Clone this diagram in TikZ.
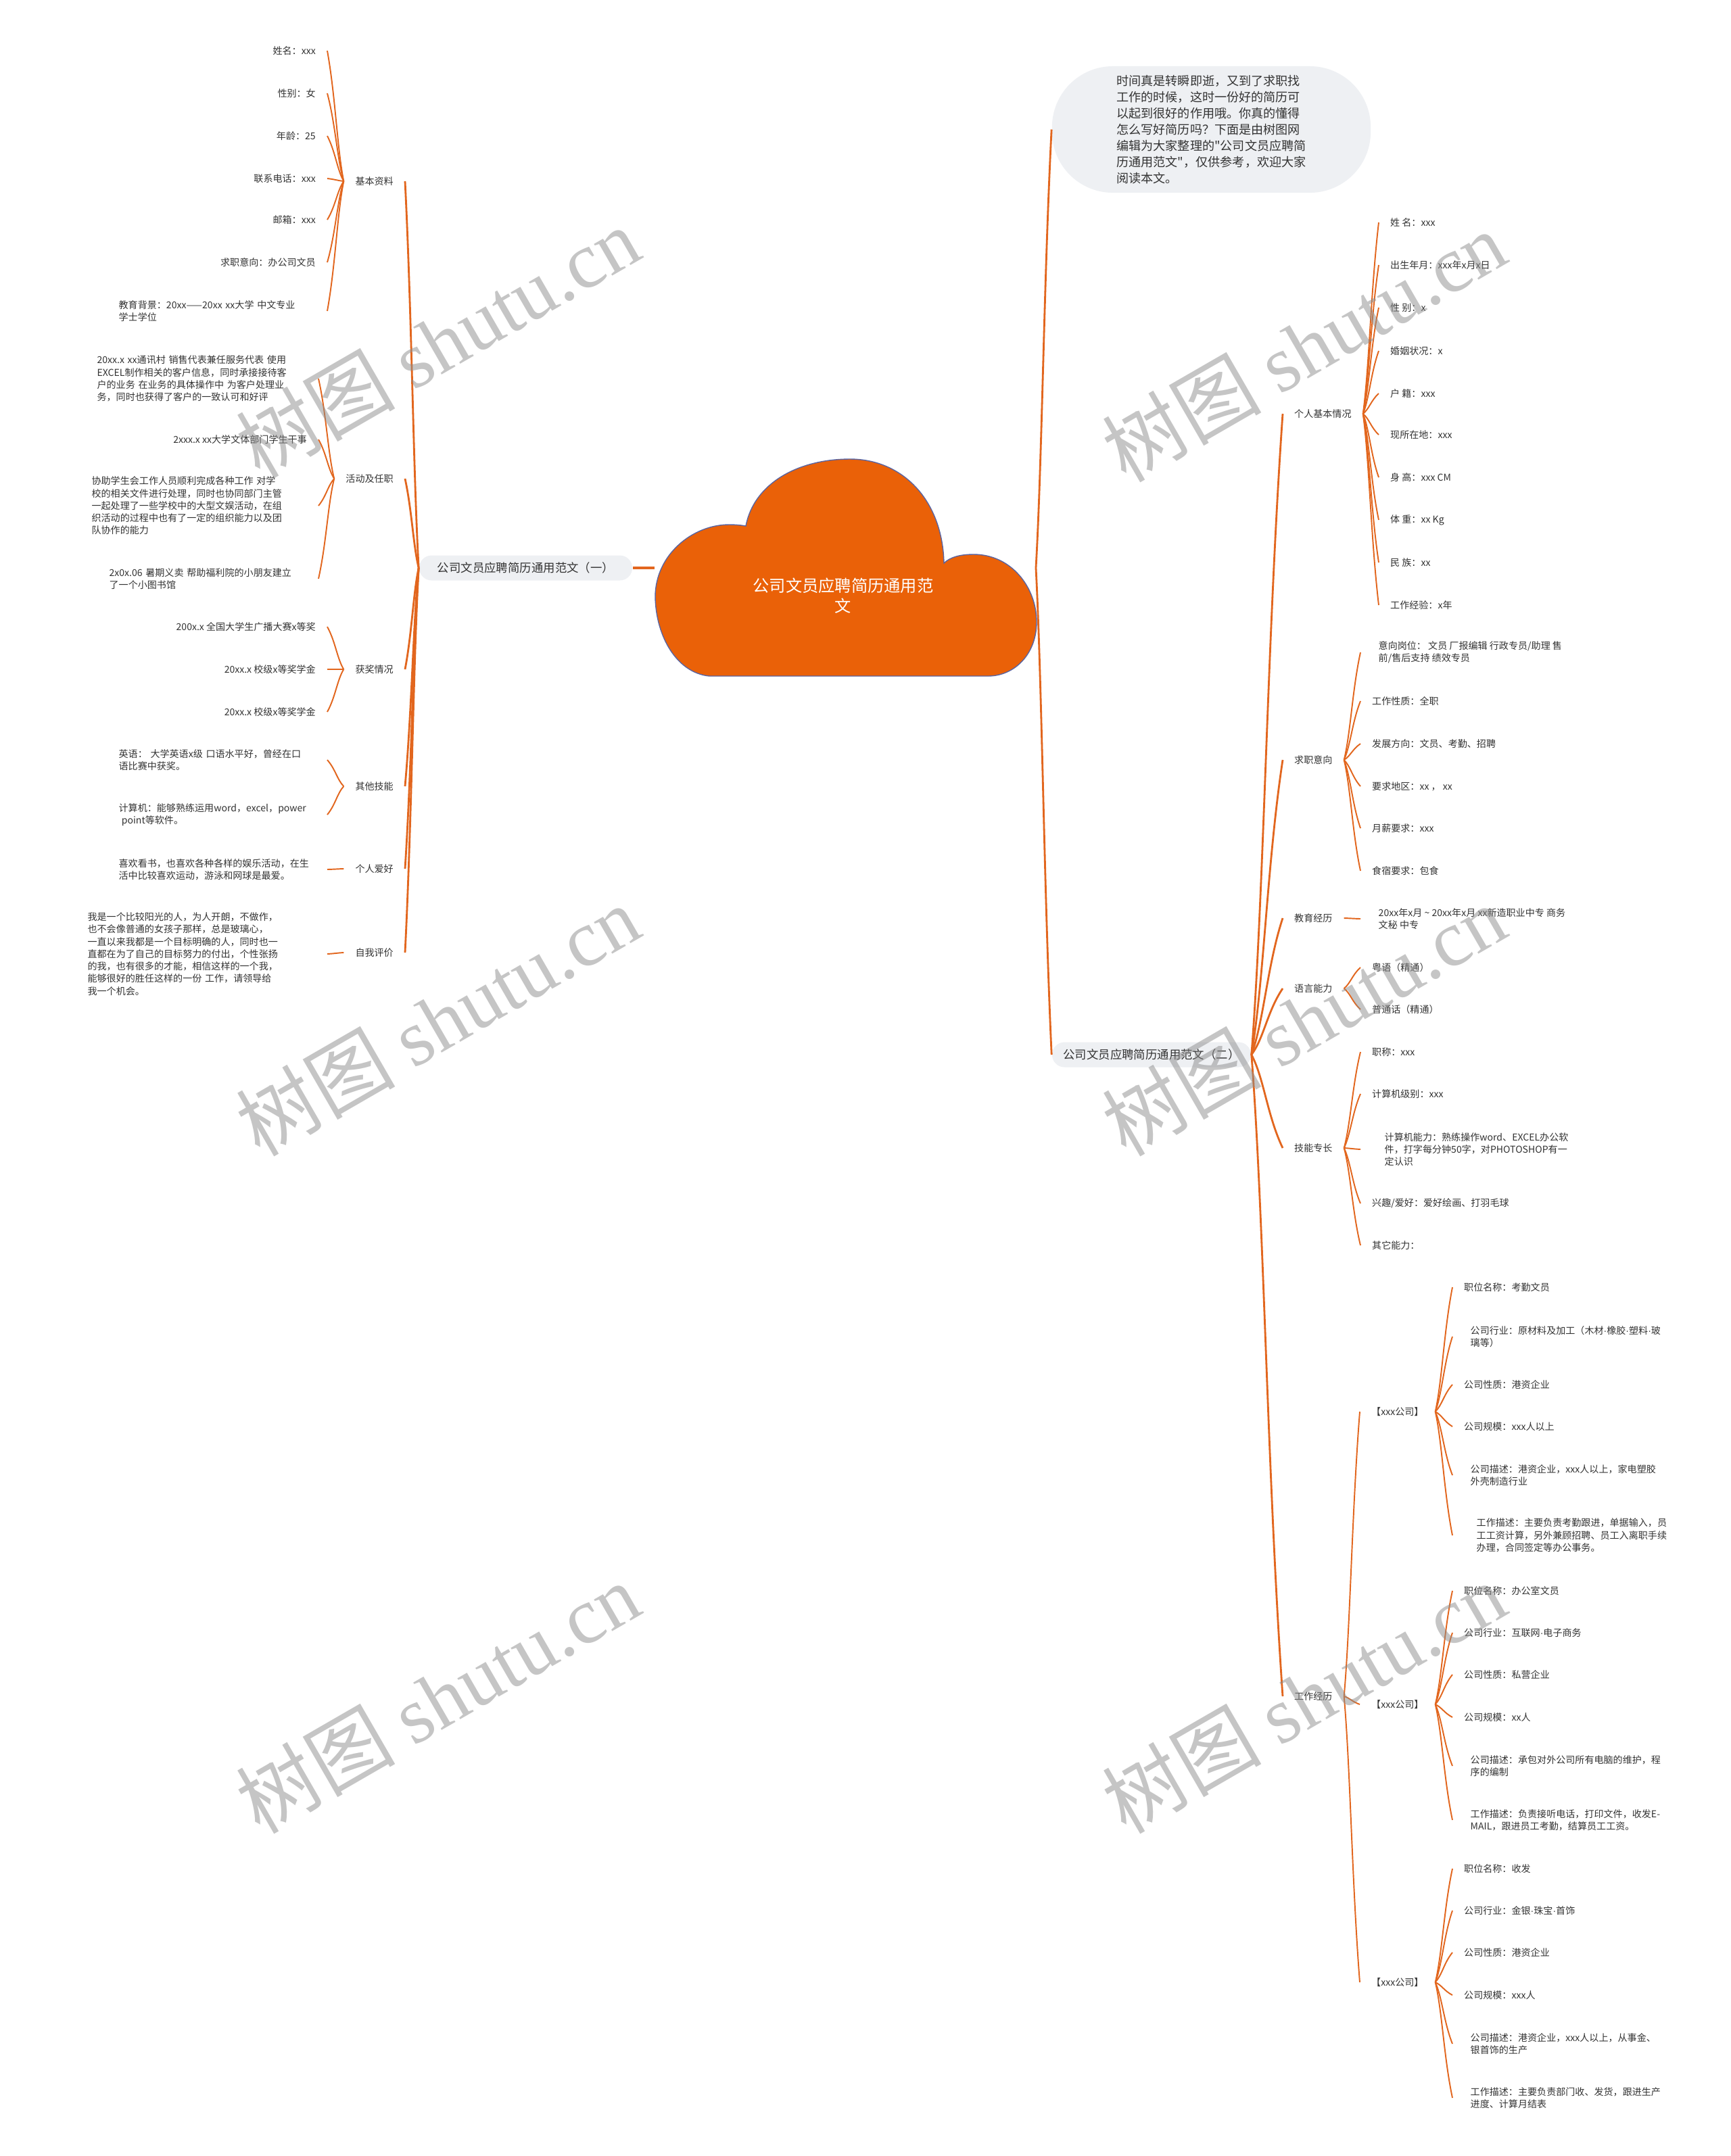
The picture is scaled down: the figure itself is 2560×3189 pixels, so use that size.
\documentclass[tikz,border=0pt]{standalone}
\usepackage{fontspec}
\setmainfont{Noto Sans CJK SC}[Ligatures=TeXOff]
\newfontfamily\wmlatin{Liberation Serif}
\newfontfamily\dotf{Liberation Sans}
\newcommand\md{{\dotf ·}}
\usetikzlibrary{calc}
\definecolor{lnc}{HTML}{E2661E}
\definecolor{cldf}{HTML}{EA6108}
\definecolor{cldb}{HTML}{5B64A0}
\definecolor{bxf}{HTML}{EEF0F3}
\definecolor{txc}{HTML}{333333}
\newcommand\mmlink[3]{\draw[#1] let \p1=(#2), \p2=(#3) in (\p1) .. controls ({\x1+0.4*(\x2-\x1)},{\y1+0.25*(\y2-\y1)}) and ({\x2-0.5*(\x2-\x1)},{\y2-0.35*(\y2-\y1)}) .. (\p2);}
\begin{document}
\begin{tikzpicture}[x=0.01cm, y=-0.01cm,
 leaf/.style={font=\fontsize{4}{5.2}\selectfont, text=txc, inner xsep=0.165cm, inner ysep=1pt},
 mbox/.style={fill=bxf, rounded corners=0.185cm, minimum width=#1, minimum height=0.37cm, inner sep=0pt, font=\fontsize{4.95}{6}\selectfont, text=txc},
 trunk/.style={draw=lnc, line width=0.8pt},
 twig/.style={draw=lnc, line width=0.55pt},
 wm/.style={font=\fontsize{33.5}{33.5}\selectfont, text=black!45, text opacity=0.5, rotate=30}]
\useasboundingbox (0,0) rectangle (2560,3189);
\fill[white] (0,0) rectangle (2560,3189);

% ---------- main nodes ----------
\coordinate (cl) at (968,840);
\coordinate (cr) at (1532,840);
\node[mbox=3.15cm] (L1) at (777.5,840) {公司文员应聘简历通用范文（一）};
\node[mbox=2.94cm] (R2) at (1703,1560) {公司文员应聘简历通用范文（二）};
\node[fill=bxf, rounded corners=0.9cm, minimum width=4.71cm, minimum height=1.87cm, inner sep=0pt, align=left, text=txc, font=\fontsize{5.15}{6.83}\selectfont] (intro) at (1791.5,191.5) {时间真是转瞬即逝，又到了求职找\\工作的时候，这时一份好的简历可\\以起到很好的作用哦。你真的懂得\\怎么写好简历吗？下面是由树图网\\编辑为大家整理的"公司文员应聘简\\历通用范文"，仅供参考，欢迎大家\\阅读本文。};

\draw[lnc, line width=1.1pt] (L1.east) -- (cl);
\mmlink{trunk}{cr}{intro.west}
\mmlink{trunk}{cr}{R2.west}

% cloud
\filldraw[fill=cldf, draw=cldb, line width=0.4pt] (1049,1000) .. controls (1000,995) and (970,940) .. (969,883) .. controls (969,820) and (1025,776) .. (1078,776) .. controls (1090,776) and (1097,777) .. (1103,778) .. controls (1115,715) and (1180,679) .. (1257,679) .. controls (1335,679) and (1394,740) .. (1396,833) .. controls (1405,824) and (1420,820) .. (1440,820) .. controls (1495,820) and (1533,868) .. (1533,920) .. controls (1533,968) and (1500,1000) .. (1461,1000) -- cycle;
\node[text=white, align=center, font=\fontsize{6.9}{8.7}\selectfont] (root) at (1247,881) {公司文员应聘简历通用范\\文};

% ---------- left level 1 ----------
\node[leaf, anchor=east] (jbzl) at (599,268) {基本资料};
\node[leaf, anchor=east] (hdrz) at (599,708) {活动及任职};
\node[leaf, anchor=east] (hjqk) at (599,990) {获奖情况};
\node[leaf, anchor=east] (qtjn) at (599,1163) {其他技能};
\node[leaf, anchor=east] (grah) at (599,1285) {个人爱好};
\node[leaf, anchor=east] (zwpj) at (599,1409) {自我评价};
\foreach \nd in {jbzl,hdrz,hjqk,qtjn,grah,zwpj} {\mmlink{trunk}{L1.west}{\nd.east}}

% 基本资料
\node[leaf, anchor=east] (a1) at (484,75) {姓名：xxx};
\node[leaf, anchor=east] (a2) at (484,138) {性别：女};
\node[leaf, anchor=east] (a3) at (484,201) {年龄：25};
\node[leaf, anchor=east] (a4) at (484,264) {联系电话：xxx};
\node[leaf, anchor=east] (a5) at (484,325) {邮箱：xxx};
\node[leaf, anchor=east] (a6) at (484,388) {求职意向：办公司文员};
\node[leaf, anchor=east, text width=2.91cm, align=left] (a7) at (484,460) {教育背景：20xx——20xx xx大学 中文专业\\学士学位};
\foreach \nd in {a1,a2,a3,a4,a5,a6,a7} {\mmlink{twig}{jbzl.west}{\nd.east}}

% 活动及任职
\node[leaf, anchor=east, text width=3.10cm, align=left] (b1) at (471,560) {20xx.x xx通讯村 销售代表兼任服务代表 使用\\EXCEL制作相关的客户信息，同时承接接待客\\户的业务 在业务的具体操作中 为客户处理业\\务，同时也获得了客户的一致认可和好评};
\node[leaf, anchor=east] (b2) at (471,650) {2xxx.x xx大学文体部门学生干事};
\node[leaf, anchor=east, text width=3.18cm, align=left] (b3) at (471,748) {协助学生会工作人员顺利完成各种工作 对学\\校的相关文件进行处理，同时也协同部门主管\\一起处理了一些学校中的大型文娱活动，在组\\织活动的过程中也有了一定的组织能力以及团\\队协作的能力};
\node[leaf, anchor=east, text width=2.92cm, align=left] (b4) at (471,856) {2x0x.06 暑期义卖 帮助福利院的小朋友建立\\了一个小图书馆};
\foreach \nd in {b1,b2,b3,b4} {\mmlink{twig}{hdrz.west}{\nd.east}}

% 获奖情况
\node[leaf, anchor=east] (c1) at (484,927) {200x.x 全国大学生广播大赛x等奖};
\node[leaf, anchor=east] (c2) at (484,990) {20xx.x 校级x等奖学金};
\node[leaf, anchor=east] (c3) at (484,1053) {20xx.x 校级x等奖学金};
\foreach \nd in {c1,c2,c3} {\mmlink{twig}{hjqk.west}{\nd.east}}

% 其他技能
\node[leaf, anchor=east, text width=2.91cm, align=left] (d1) at (484,1124) {英语：\ 大学英语x级 口语水平好，曾经在口\\语比赛中获奖。};
\node[leaf, anchor=east, text width=2.91cm, align=left] (d2) at (484,1205) {计算机：能够熟练运用word，excel，power\\\hspace*{1.2pt}point等软件。};
\foreach \nd in {d1,d2} {\mmlink{twig}{qtjn.west}{\nd.east}}

% 个人爱好 / 自我评价
\node[leaf, anchor=east, text width=2.91cm, align=left] (e1) at (484,1286) {喜欢看书，也喜欢各种各样的娱乐活动，在生\\活中比较喜欢运动，游泳和网球是最爱。};
\mmlink{twig}{grah.west}{e1.east}
\node[leaf, anchor=east, text width=3.37cm, align=left] (f1) at (484,1411) {我是一个比较阳光的人，为人开朗，不做作，\\也不会像普通的女孩子那样，总是玻璃心，\\一直以来我都是一个目标明确的人，同时也一\\直都在为了自己的目标努力的付出，个性张扬\\的我，也有很多的才能，相信这样的一个我，\\能够很好的胜任这样的一份 工作，请领导给\\我一个机会。};
\mmlink{twig}{zwpj.west}{f1.east}

% ---------- right level 1 ----------
\node[leaf, anchor=west] (g1) at (1897,612) {个人基本情况};
\node[leaf, anchor=west] (g2) at (1897,1124) {求职意向};
\node[leaf, anchor=west] (g3) at (1897,1358) {教育经历};
\node[leaf, anchor=west] (g4) at (1897,1462) {语言能力};
\node[leaf, anchor=west] (g5) at (1897,1698) {技能专长};
\node[leaf, anchor=west] (g6) at (1897,2509) {工作经历};
\foreach \nd in {g1,g2,g3,g4,g5,g6} {\mmlink{trunk}{R2.east}{\nd.west}}

% 个人基本情况
\node[leaf, anchor=west] (p1) at (2039,329) {姓 名：xxx};
\node[leaf, anchor=west] (p2) at (2039,392) {出生年月：xxx年x月x日};
\node[leaf, anchor=west] (p3) at (2039,455) {性 别：x};
\node[leaf, anchor=west] (p4) at (2039,519) {婚姻状况：x};
\node[leaf, anchor=west] (p5) at (2039,582) {户 籍：xxx};
\node[leaf, anchor=west] (p6) at (2039,643) {现所在地：xxx};
\node[leaf, anchor=west] (p7) at (2039,706) {身 高：xxx CM};
\node[leaf, anchor=west] (p8) at (2039,769) {体 重：xx Kg};
\node[leaf, anchor=west] (p9) at (2039,832) {民 族：xx};
\node[leaf, anchor=west] (p10) at (2039,895) {工作经验：x年};
\foreach \nd in {p1,p2,p3,p4,p5,p6,p7,p8,p9,p10} {\mmlink{twig}{g1.east}{\nd.west}}

% 求职意向
\node[leaf, anchor=west, align=left, inner xsep=0.26cm] (q1) at (2012,965) {意向岗位：\ 文员 厂报编辑 行政专员/助理 售\\前/售后支持 绩效专员};
\node[leaf, anchor=west] (q2) at (2012,1037) {工作性质：全职};
\node[leaf, anchor=west] (q3) at (2012,1100) {发展方向：文员、考勤、招聘};
\node[leaf, anchor=west] (q4) at (2012,1163) {要求地区：xx ， xx};
\node[leaf, anchor=west] (q5) at (2012,1225) {月薪要求：xxx};
\node[leaf, anchor=west] (q6) at (2012,1288) {食宿要求：包食};
\foreach \nd in {q1,q2,q3,q4,q5,q6} {\mmlink{twig}{g2.east}{\nd.west}}

% 教育经历
\node[leaf, anchor=west, align=left, inner xsep=0.26cm] (r1) at (2012,1359) {20xx年x月 \textasciitilde{} 20xx年x月 xx新造职业中专 商务\\文秘 中专};
\mmlink{twig}{g3.east}{r1.west}

% 语言能力
\node[leaf, anchor=west] (s1) at (2012,1431) {粤语（精通）};
\node[leaf, anchor=west] (s2) at (2012,1493) {普通话（精通）};
\foreach \nd in {s1,s2} {\mmlink{twig}{g4.east}{\nd.west}}

% 技能专长
\node[leaf, anchor=west] (t1) at (2012,1556) {职称：xxx};
\node[leaf, anchor=west] (t2) at (2012,1618) {计算机级别：xxx};
\node[leaf, anchor=west, align=left, inner xsep=0.35cm] (t3) at (2012,1700) {计算机能力：熟练操作word、EXCEL办公软\\件，打字每分钟50字，对PHOTOSHOP有一\\定认识};
\node[leaf, anchor=west] (t4) at (2012,1780) {兴趣/爱好：爱好绘画、打羽毛球};
\node[leaf, anchor=west] (t5) at (2012,1842) {其它能力：};
\foreach \nd in {t1,t2,t3,t4,t5} {\mmlink{twig}{g5.east}{\nd.west}}

% 工作经历
\node[leaf, anchor=west] (k1) at (2011,2088) {【xxx公司】};
\node[leaf, anchor=west] (k2) at (2011,2521) {【xxx公司】};
\node[leaf, anchor=west] (k3) at (2011,2932) {【xxx公司】};
\foreach \nd in {k1,k2,k3} {\mmlink{twig}{g6.east}{\nd.west}}

% company 1
\node[leaf, anchor=west] (u1) at (2148,1904) {职位名称：考勤文员};
\node[leaf, anchor=west, align=left, inner xsep=0.26cm] (u2) at (2148,1977) {公司行业：原材料及加工（木材\md 橡胶\md 塑料\md 玻\\璃等）};
\node[leaf, anchor=west] (u3) at (2148,2048) {公司性质：港资企业};
\node[leaf, anchor=west] (u4) at (2148,2110) {公司规模：xxx人以上};
\node[leaf, anchor=west, align=left, inner xsep=0.26cm] (u5) at (2148,2182) {公司描述：港资企业，xxx人以上，家电塑胶\\外壳制造行业};
\node[leaf, anchor=west, align=left, inner xsep=0.35cm] (u6) at (2148,2271) {工作描述：主要负责考勤跟进，单据输入，员\\工工资计算，另外兼顾招聘、员工入离职手续\\办理，合同签定等办公事务。};
\foreach \nd in {u1,u2,u3,u4,u5,u6} {\mmlink{twig}{k1.east}{\nd.west}}

% company 2
\node[leaf, anchor=west] (v1) at (2148,2353) {职位名称：办公室文员};
\node[leaf, anchor=west] (v2) at (2148,2415) {公司行业：互联网\md 电子商务};
\node[leaf, anchor=west] (v3) at (2148,2477) {公司性质：私营企业};
\node[leaf, anchor=west] (v4) at (2148,2540) {公司规模：xx人};
\node[leaf, anchor=west, align=left, inner xsep=0.26cm] (v5) at (2148,2612) {公司描述：承包对外公司所有电脑的维护，程\\序的编制};
\node[leaf, anchor=west, align=left, inner xsep=0.26cm] (v6) at (2148,2692) {工作描述：负责接听电话，打印文件，收发E-\\MAIL，跟进员工考勤，结算员工工资。};
\foreach \nd in {v1,v2,v3,v4,v5,v6} {\mmlink{twig}{k2.east}{\nd.west}}

% company 3
\node[leaf, anchor=west] (x1) at (2148,2764) {职位名称：收发};
\node[leaf, anchor=west] (x2) at (2148,2826) {公司行业：金银\md 珠宝\md 首饰};
\node[leaf, anchor=west] (x3) at (2148,2888) {公司性质：港资企业};
\node[leaf, anchor=west] (x4) at (2148,2951) {公司规模：xxx人};
\node[leaf, anchor=west, align=left, inner xsep=0.26cm] (x5) at (2148,3023) {公司描述：港资企业，xxx人以上，从事金、\\银首饰的生产};
\node[leaf, anchor=west, align=left, inner xsep=0.26cm] (x6) at (2148,3103) {工作描述：主要负责部门收、发货，跟进生产\\进度、计算月结表};
\foreach \nd in {x1,x2,x3,x4,x5,x6} {\mmlink{twig}{k3.east}{\nd.west}}

% ---------- watermarks ----------
\node[wm] (w1) at (647,506) {树图 {\wmlatin shutu.cn}};
\node[wm] (w2) at (1928,512) {树图 {\wmlatin shutu.cn}};
\node[wm] (w3) at (647,1509) {树图 {\wmlatin shutu.cn}};
\node[wm] (w4) at (1928,1509) {树图 {\wmlatin shutu.cn}};
\node[wm] (w5) at (647,2511) {树图 {\wmlatin shutu.cn}};
\node[wm] (w6) at (1928,2511) {树图 {\wmlatin shutu.cn}};
\end{tikzpicture}
\end{document}
